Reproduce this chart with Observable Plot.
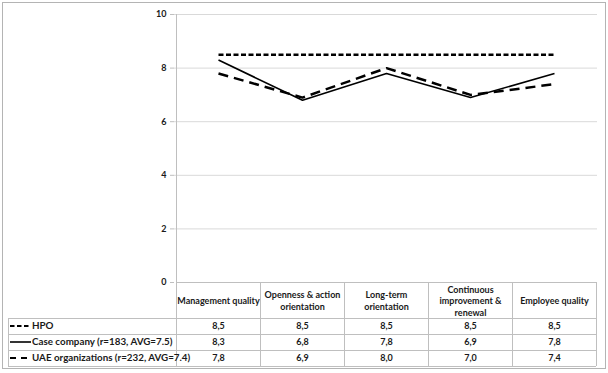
<!DOCTYPE html>
<html>
<head>
<meta charset="utf-8">
<script src="https://cdn.jsdelivr.net/npm/d3@7"></script>
<script src="https://cdn.jsdelivr.net/npm/@observablehq/plot@0.6"></script>
<style>
  html, body { margin: 0; padding: 0; background: #fff; }
  #wrap { position: relative; width: 608px; height: 373px; overflow: hidden; }
  #border { position: absolute; left: 2px; top: 2px; width: 602px; height: 365px; border: 1px solid #b4b4b4; pointer-events: none; }
  #chart svg { display: block; }
</style>
</head>
<body>
<div id="wrap"><div id="chart"></div><div id="border"></div></div>
<script>
const categories = ["Management quality", "Openness & action orientation", "Long-term orientation", "Continuous improvement & renewal", "Employee quality"];
const headerLabels = ["Management quality", "Openness & action\norientation", "Long-term\norientation", "Continuous\nimprovement &\nrenewal", "Employee quality"];
const seriesNames = ["HPO", "Case company (r=183, AVG=7.5)", "UAE organizations (r=232, AVG=7.4)"];
const hpo = [8.5, 8.5, 8.5, 8.5, 8.5];
const caseCompany = [8.3, 6.8, 7.8, 6.9, 7.8];
const uae = [7.8, 6.9, 8.0, 7.0, 7.4];
const yTicks = [0, 2, 4, 6, 8, 10];

const seriesValues = [hpo, caseCompany, uae];
const seriesDash = ["5,2.5", null, "10,6"];
const seriesWidth = [2.5, 1.6, 2.5];

const records = seriesNames.flatMap((s, si) => categories.map((c, ci) => ({series: s, category: c, value: seriesValues[si][ci]})));
const fmt = v => v.toFixed(1).replace(".", ",");

const font = "Lato, 'Open Sans', sans-serif";
const gridColor = "#d9d9d9";
const lineColor = "#bfbfbf";
const textColor = "#1a1a1a";

const plot = Plot.plot({
  width: 608,
  height: 373,
  marginLeft: 174,
  marginRight: 11,
  marginTop: 14,
  marginBottom: 91,
  style: {fontFamily: font, fontSize: "9px", background: "transparent", color: textColor},
  x: {type: "point", domain: categories, padding: 0.5, axis: null},
  y: {domain: [0, 10], axis: null},
  marks: [
    Plot.ruleY(yTicks.filter(d => d > 0), {stroke: gridColor, strokeWidth: 1}),
    Plot.axisY(yTicks, {tickSize: 4, tickPadding: 4, stroke: lineColor, fill: textColor, fontWeight: "bold", label: null, tickFormat: d => String(d)}),
    ...seriesNames.map((s, si) => Plot.line(records.filter(r => r.series === s), {
      x: "category", y: "value", stroke: "#000", strokeWidth: seriesWidth[si],
      strokeDasharray: seriesDash[si], strokeLinejoin: "miter", strokeLinecap: "butt"
    })),
    Plot.text(categories, {x: d => d, frameAnchor: "bottom", dy: 18, text: (d, i) => headerLabels[i], lineAnchor: "middle", lineHeight: 1.3, fontWeight: "bold", fill: textColor}),
    ...seriesValues.map((vals, si) => Plot.text(categories, {
      x: d => d, frameAnchor: "bottom", dy: 44 + 16 * si, text: (d, i) => fmt(vals[i]),
      lineAnchor: "middle", fontWeight: "bold", fill: textColor
    }))
  ]
});

document.getElementById("chart").appendChild(plot);

// Data table grid and legend column, positioned with the plot's own scales
const xs = plot.scale("x");
const ys = plot.scale("y");
const centers = categories.map(c => xs.apply(c));
const step = centers[1] - centers[0];
const bounds = [centers[0] - step / 2, ...centers.map(c => c + step / 2)];
const y0 = ys.apply(0);
const yTop = ys.apply(10);
const rowLines = [y0 + 36, y0 + 52, y0 + 68, y0 + 84];
const legendLeft = 8;

const svg = d3.select(plot);
const g = svg.append("g").attr("stroke", lineColor).attr("stroke-width", 1).attr("shape-rendering", "crispEdges");
g.append("line").attr("x1", bounds[0]).attr("x2", bounds[0]).attr("y1", yTop).attr("y2", y0);
g.append("line").attr("x1", bounds[0]).attr("x2", bounds[5]).attr("y1", y0).attr("y2", y0);
bounds.forEach(b => g.append("line").attr("x1", b).attr("x2", b).attr("y1", y0).attr("y2", rowLines[3]));
g.append("line").attr("x1", legendLeft).attr("x2", legendLeft).attr("y1", rowLines[0]).attr("y2", rowLines[3]);
rowLines.forEach(y => g.append("line").attr("x1", legendLeft).attr("x2", bounds[5]).attr("y1", y).attr("y2", y));

const legendWidth = [2.2, 1.6, 2.2];
const legendDash = ["4.5,2.5", null, "6,5"];
const lg = svg.append("g").attr("text-anchor", "start");
seriesNames.forEach((s, si) => {
  const cy = (rowLines[si] + rowLines[si + 1]) / 2;
  lg.append("line").attr("x1", 10).attr("x2", 31).attr("y1", cy).attr("y2", cy)
    .attr("stroke", "#000").attr("stroke-width", legendWidth[si])
    .attr("stroke-dasharray", legendDash[si]);
  lg.append("text").attr("x", 32).attr("y", cy).attr("dy", "0.32em")
    .attr("text-anchor", "start")
    .attr("font-family", font).attr("font-size", 9.8).attr("font-weight", "bold")
    .attr("fill", textColor).text(s);
});
</script>
</body>
</html>
